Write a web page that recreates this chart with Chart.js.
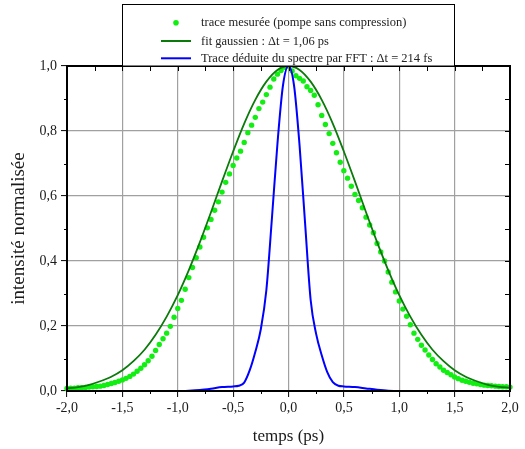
<!DOCTYPE html>
<html>
<head>
<meta charset="utf-8">
<script src="https://cdn.jsdelivr.net/npm/chart.js@4.4.1/dist/chart.umd.min.js"></script>
<style>
  html, body { margin: 0; padding: 0; background: #fff; }
  #wrap { width: 525px; height: 449px; }
</style>
</head>
<body>
<div id="wrap"><canvas id="graphe" width="525" height="449"></canvas></div>
<script>
// trace mesurée (points verts)
var tempsMesure = [
  -2.000, -1.967, -1.933, -1.900, -1.867, -1.833, -1.800, -1.767, -1.733, -1.700,
  -1.667, -1.633, -1.600, -1.567, -1.533, -1.500, -1.467, -1.433, -1.400, -1.367,
  -1.333, -1.300, -1.267, -1.233, -1.200, -1.167, -1.133, -1.100, -1.067, -1.033,
  -1.000, -0.967, -0.933, -0.900, -0.867, -0.833, -0.800, -0.767, -0.733, -0.700,
  -0.667, -0.633, -0.600, -0.567, -0.533, -0.500, -0.467, -0.433, -0.400, -0.367,
  -0.333, -0.300, -0.267, -0.233, -0.200, -0.167, -0.133, -0.100, -0.067, -0.033,
  0.000, 0.033, 0.067, 0.100, 0.133, 0.167, 0.200, 0.233, 0.267, 0.300,
  0.333, 0.367, 0.400, 0.433, 0.467, 0.500, 0.533, 0.567, 0.600, 0.633,
  0.667, 0.700, 0.733, 0.767, 0.800, 0.833, 0.867, 0.900, 0.933, 0.967,
  1.000, 1.033, 1.067, 1.100, 1.133, 1.167, 1.200, 1.233, 1.267, 1.300,
  1.333, 1.367, 1.400, 1.433, 1.467, 1.500, 1.533, 1.567, 1.600, 1.633,
  1.667, 1.700, 1.733, 1.767, 1.800, 1.833, 1.867, 1.900, 1.933, 1.967,
  2.000
];
var traceMesuree = [
  0.008, 0.009, 0.009, 0.010, 0.010, 0.011, 0.012, 0.013, 0.014, 0.015,
  0.017, 0.020, 0.023, 0.026, 0.030, 0.034, 0.039, 0.045, 0.052, 0.061,
  0.070, 0.081, 0.093, 0.107, 0.125, 0.143, 0.161, 0.178, 0.199, 0.227,
  0.254, 0.279, 0.313, 0.349, 0.380, 0.410, 0.443, 0.473, 0.502, 0.528,
  0.556, 0.582, 0.612, 0.642, 0.668, 0.694, 0.717, 0.738, 0.765, 0.795,
  0.818, 0.842, 0.869, 0.889, 0.912, 0.935, 0.960, 0.975, 0.986, 0.996,
  1.000, 0.985, 0.970, 0.962, 0.954, 0.936, 0.925, 0.910, 0.881, 0.848,
  0.820, 0.792, 0.762, 0.733, 0.704, 0.678, 0.655, 0.630, 0.605, 0.586,
  0.564, 0.535, 0.511, 0.487, 0.454, 0.428, 0.400, 0.366, 0.335, 0.305,
  0.277, 0.252, 0.230, 0.204, 0.178, 0.159, 0.141, 0.126, 0.111, 0.097,
  0.084, 0.074, 0.064, 0.057, 0.050, 0.043, 0.038, 0.033, 0.030, 0.027,
  0.024, 0.022, 0.020, 0.018, 0.017, 0.016, 0.015, 0.014, 0.013, 0.013,
  0.012
];

// fit gaussien (ligne vert foncé)
var tempsFit = [
  -2.0, -1.9, -1.8, -1.7, -1.6, -1.5, -1.4, -1.3, -1.2, -1.1,
  -1.0, -0.9, -0.8, -0.7, -0.6, -0.5, -0.4, -0.3, -0.2, -0.1,
  0.0, 0.1, 0.2, 0.3, 0.4, 0.5, 0.6, 0.7, 0.8, 0.9,
  1.0, 1.1, 1.2, 1.3, 1.4, 1.5, 1.6, 1.7, 1.8, 1.9, 2.0
];
var fitGauss = [
  0.008, 0.012, 0.019, 0.030, 0.044, 0.064, 0.092, 0.127, 0.173, 0.229,
  0.295, 0.372, 0.458, 0.550, 0.645, 0.737, 0.823, 0.896, 0.952, 0.988,
  1.000, 0.988, 0.952, 0.896, 0.823, 0.737, 0.645, 0.550, 0.458, 0.372,
  0.295, 0.229, 0.173, 0.127, 0.092, 0.064, 0.044, 0.030, 0.019, 0.013, 0.010
];

// trace déduite du spectre par FFT (ligne bleue)
var tempsFFT = [
  -2.0, -1.0, -0.9, -0.8, -0.7, -0.6, -0.5, -0.45, -0.4, -0.35,
  -0.3, -0.25, -0.2, -0.15, -0.1, -0.05, 0.0, 0.05, 0.1, 0.15,
  0.2, 0.25, 0.3, 0.35, 0.4, 0.45, 0.5, 0.6, 0.7, 0.8, 0.9, 1.0, 2.0
];
var traceFFT = [
  0.000, 0.000, 0.001, 0.003, 0.007, 0.012, 0.014, 0.016, 0.026, 0.064,
  0.120, 0.190, 0.310, 0.530, 0.760, 0.940, 1.000, 0.940, 0.755, 0.515,
  0.280, 0.175, 0.110, 0.058, 0.027, 0.016, 0.014, 0.012, 0.008, 0.004, 0.001, 0.000, 0.000
];

var legendes = [
  'trace mesurée (pompe sans compression)',
  'fit gaussien : \u0394t = 1,06 ps',
  'Trace déduite du spectre par FFT : \u0394t = 214 fs'
];

var police = '"Liberation Serif", "DejaVu Serif", serif';

function points(xs, ys) {
  return xs.map(function (x, i) { return { x: x, y: ys[i] }; });
}

function virgule(v) {
  return v.toFixed(1).replace('.', ',');
}

// cadre noir + petites graduations
var cadre = {
  id: 'cadre',
  afterDatasetsDraw: function (chart) {
    var a = chart.chartArea, c = chart.ctx;
    var sx = chart.scales.x, sy = chart.scales.y;
    c.save();
    c.strokeStyle = '#000';
    c.lineWidth = 1;
    c.beginPath();
    for (var v = -2; v <= 2.001; v += 0.25) {
      var px = Math.round(sx.getPixelForValue(v)) + 0.5;
      // haut : vers l'intérieur
      c.moveTo(px, a.top); c.lineTo(px, a.top + 5);
      // bas : graduations mineures vers l'extérieur
      if (Math.abs(v * 2 - Math.round(v * 2)) > 0.01) {
        c.moveTo(px, a.bottom); c.lineTo(px, a.bottom + 3);
      }
    }
    for (var w = 0; w <= 1.001; w += 0.1) {
      var py = Math.round(sy.getPixelForValue(w)) + 0.5;
      c.moveTo(a.right, py); c.lineTo(a.right - 5, py);
      if (Math.abs(w * 5 - Math.round(w * 5)) > 0.01) {
        c.moveTo(a.left, py); c.lineTo(a.left - 3, py);
      }
    }
    c.stroke();
    c.lineWidth = 2;
    c.strokeRect(a.left, a.top, a.right - a.left, a.bottom - a.top);
    c.restore();
  }
};

// boîte de légende au-dessus du graphe
var boiteLegende = {
  id: 'boiteLegende',
  afterDraw: function (chart) {
    var c = chart.ctx, a = chart.chartArea;
    var gauche = 122.5, droite = 454.5, haut = 4.5;
    c.save();
    c.fillStyle = '#fff';
    c.fillRect(gauche, haut, droite - gauche, a.top - haut);
    c.strokeStyle = '#000';
    c.lineWidth = 1;
    c.strokeRect(gauche, haut, droite - gauche, a.top - haut);
    var lignes = [22.7, 41, 58.3];
    chart.data.datasets.forEach(function (ds, i) {
      var y = lignes[i];
      if (ds.showLine === false) {
        c.fillStyle = ds.pointBackgroundColor;
        c.beginPath();
        c.arc(176, y, 2.8, 0, Math.PI * 2);
        c.fill();
      } else {
        c.strokeStyle = ds.borderColor;
        c.lineWidth = 2;
        c.beginPath();
        c.moveTo(161, y); c.lineTo(191, y);
        c.stroke();
      }
      c.fillStyle = '#222';
      c.font = '12.5px ' + police;
      c.textBaseline = 'middle';
      c.fillText(ds.label, 201, y + 0.5);
    });
    c.restore();
  }
};

var ctx = document.getElementById('graphe').getContext('2d');
var graphe = new Chart(ctx, {
  type: 'scatter',
  data: {
    datasets: [
      {
        label: legendes[0],
        data: points(tempsMesure, traceMesuree),
        showLine: false,
        pointRadius: 2.7,
        pointBackgroundColor: '#11ee11',
        pointBorderWidth: 0,
        clip: 4,
        order: 2
      },
      {
        label: legendes[1],
        data: points(tempsFit, fitGauss),
        showLine: true,
        borderColor: '#0a7a0a',
        borderWidth: 1.8,
        pointRadius: 0,
        cubicInterpolationMode: 'monotone',
        clip: 4,
        order: 1
      },
      {
        label: legendes[2],
        data: points(tempsFFT, traceFFT),
        showLine: true,
        borderColor: '#0000ff',
        borderWidth: 2,
        pointRadius: 0,
        cubicInterpolationMode: 'monotone',
        clip: 4,
        order: 0
      }
    ]
  },
  options: {
    responsive: false,
    animation: false,
    layout: { padding: { top: 66, right: 15, left: 0, bottom: 0 } },
    plugins: {
      legend: { display: false },
      tooltip: { enabled: false }
    },
    scales: {
      x: {
        type: 'linear',
        min: -2,
        max: 2,
        border: { display: false },
        grid: { color: '#a0a0a0', lineWidth: 1.2, tickLength: 6, tickColor: '#000', tickWidth: 1 },
        ticks: {
          stepSize: 0.5,
          padding: 3,
          color: '#1a1a1a',
          maxRotation: 0,
          font: { family: police, size: 14 },
          callback: function (v) { return virgule(v); }
        },
        title: {
          display: true,
          text: 'temps (ps)',
          color: '#1a1a1a',
          font: { family: police, size: 17 },
          padding: { top: 0, bottom: 2 }
        },
        afterFit: function (s) { s.height = 58; }
      },
      y: {
        min: 0,
        max: 1,
        border: { display: false },
        grid: { color: '#a0a0a0', lineWidth: 1.2, tickLength: 6, tickColor: '#000', tickWidth: 1 },
        ticks: {
          stepSize: 0.2,
          padding: 4,
          color: '#1a1a1a',
          font: { family: police, size: 14 },
          callback: function (v) { return virgule(v); }
        },
        title: {
          display: true,
          text: 'intensité normalisée',
          color: '#1a1a1a',
          font: { family: police, size: 19 },
          padding: { top: 8, bottom: 0 }
        },
        afterFit: function (s) { s.width = 67; }
      }
    }
  },
  plugins: [cadre, boiteLegende]
});
</script>
</body>
</html>
